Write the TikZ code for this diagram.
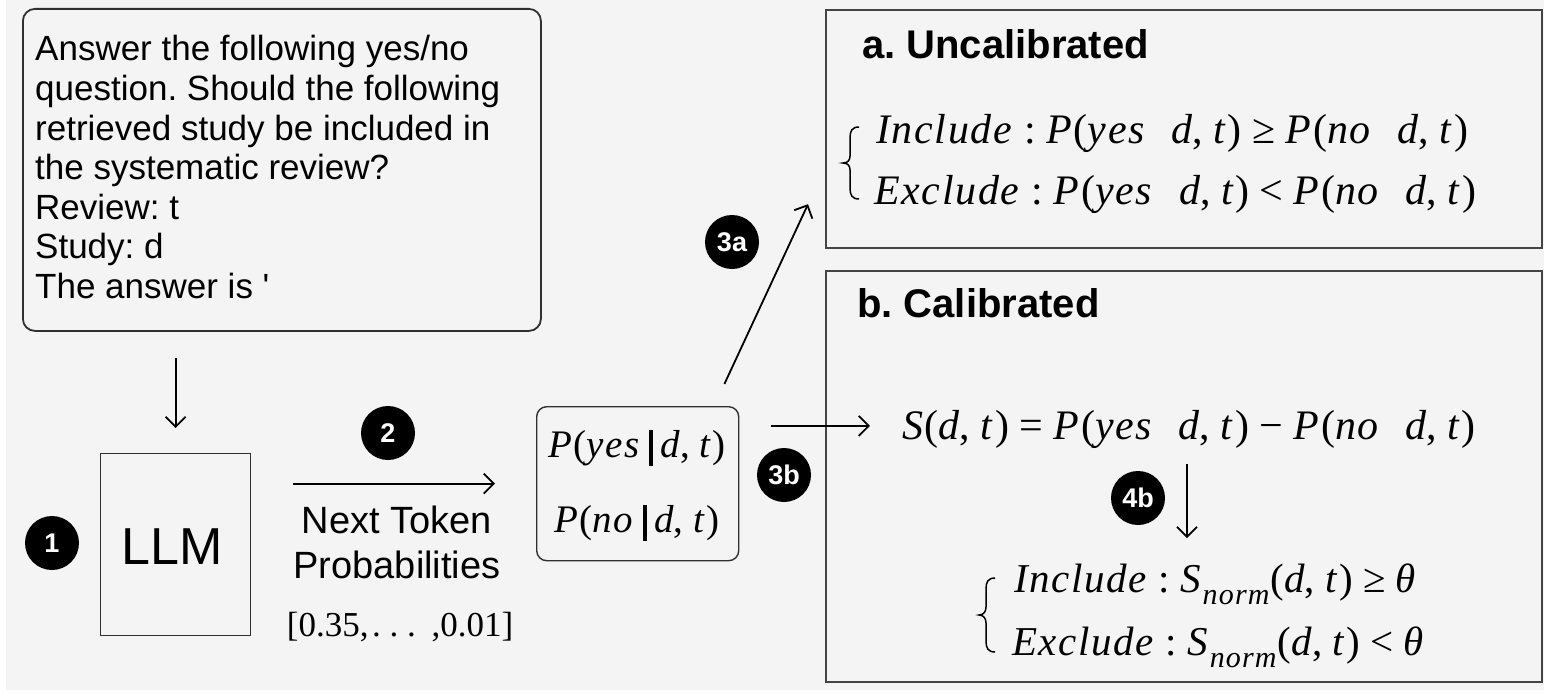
\documentclass[tikz,border=0pt]{standalone}
\usepackage{fontspec}
\setmainfont{Liberation Sans}
\newfontfamily\plainsans{Liberation Sans}[Ligatures=TeXOff]
\newfontfamily\tms{Liberation Serif}[ItalicFeatures={LetterSpace=4}]
\usetikzlibrary{arrows.meta}
\definecolor{bgc}{HTML}{F4F4F4}
\definecolor{edgec}{HTML}{303030}
\definecolor{framec}{HTML}{444444}
\newcommand\fs[1]{\fontsize{#1}{#1}\selectfont}
\newcommand\vv[1]{\textit{#1}}
\newcommand\pbar{\kern0.2em\rule[-9pt]{4pt}{36pt}\kern0.2em}
\newcommand\gap{\hspace{0.6em}}
\newcommand\sub[1]{\raisebox{-0.3em}{\fontsize{30}{30}\selectfont\textit{#1}}}
\frenchspacing
\begin{document}
\begin{tikzpicture}[x=1pt,y=-1pt,
  conn/.style={line width=1.8pt,-{Straight Barb[length=10pt,width=20pt]}},
  badge/.style={circle,fill=black,minimum size=54pt,inner sep=0pt,text=white,font=\fs{27}\bfseries},
  rbox/.style={draw=edgec,line width=1.8pt,rounded corners=12pt,anchor=north west,inner sep=0pt},
  sbox/.style={draw=edgec,line width=1.4pt,anchor=north west,inner sep=0pt},
  frame/.style={draw=framec,line width=2.2pt,anchor=north west,inner sep=0pt},
  eqa/.style={anchor=base west,inner sep=0pt,font=\tms\fs{42}\frenchspacing},
  eqb/.style={anchor=base west,inner sep=0pt,font=\tms\fs{41}\frenchspacing},
  title/.style={anchor=base west,inner sep=0pt,font=\fs{40}\bfseries\frenchspacing},
  lbl/.style={anchor=base,inner sep=0pt}]
\useasboundingbox (0,0) rectangle (1544,693);
\fill[bgc] (6,0) rectangle (1544,690);

% prompt
\node[rbox,minimum width=518pt,minimum height=322pt] (promptbox) at (22,8) {};
\node[anchor=base west,inner sep=0pt,font=\fontsize{35}{39.5}\selectfont\frenchspacing] (prompt) at (35,61)
  {\parbox[t]{500pt}{\raggedright\frenchspacing Answer the following yes/no\\question. Should the following\\retrieved study be included in\\the systematic review?\\Review: t\\Study: d\\The answer is {\plainsans '}}};

% LLM
\node[sbox,minimum width=150pt,minimum height=182pt] (llm) at (100,453) {};
\node[lbl,font=\fs{52}] (llmtext) at (172,564) {LLM};
\draw[conn,shorten <=26pt,shorten >=25pt] (llm.north |- promptbox.south) -- (llm.north);

\node[badge] (b1) at (52,543) {1};
\node[badge] (b2) at (388,433) {2};

% probabilities box
\node[rbox,rounded corners=10pt,line width=1.4pt,minimum width=202pt,minimum height=154pt] (prob) at (536,406) {};
\node[lbl,font=\tms\fs{39}] (pyes) at (637,457) {\vv{P}(\vv{yes}\pbar\vv{d}, \vv{t})};
\node[lbl,font=\tms\fs{39}] (pno) at (637,532) {\vv{P}(\vv{no}\pbar\vv{d}, \vv{t})};

\draw[conn,shorten <=42pt,shorten >=41pt] (llm.east |- prob.west) -- (prob.west);
\node[anchor=base,inner sep=0pt,font=\fontsize{38}{45}\selectfont] (ntp) at (397,533)
  {\parbox[t]{260pt}{\centering Next Token\\Probabilities}};
\node[lbl,font=\tms\fs{35}] (vals) at (400,636) {[0.35,\kern0.1em.\kern0.25em.\kern0.25em.\kern0.45em,0.01]};

% boxes a and b
\node[frame,minimum width=716pt,minimum height=238pt] (boxa) at (825,9) {};
\node[frame,minimum width=716pt,minimum height=411pt] (boxb) at (825,270) {};
\node[title] (ta) at (862,59) {a. Uncalibrated};
\node[title] (tb) at (857,317) {b. Calibrated};

\node[eqa] (ainc) at (876,143) {\vv{Include} : \vv{P}(\vv{yes}\gap\vv{d}, \vv{t}) ≥ \vv{P}(\vv{no}\gap\vv{d}, \vv{t})};
\node[eqa] (aexc) at (874,204) {\vv{Exclude} : \vv{P}(\vv{yes}\gap\vv{d}, \vv{t}) < \vv{P}(\vv{no}\gap\vv{d}, \vv{t})};
\draw[line width=1.5pt] (859,127) .. controls (852,127) and (850,131) .. (850,138) -- (850,156)
  .. controls (850,160) and (848,163) .. (843,163) .. controls (848,163) and (850,166) .. (850,170)
  -- (850,188) .. controls (850,195) and (852,199) .. (859,199);

\node[eqa] (seq) at (902,439) {\vv{S}(\vv{d}, \vv{t}) = \vv{P}(\vv{yes}\gap\vv{d}, \vv{t}) − \vv{P}(\vv{no}\gap\vv{d}, \vv{t})};
\node[eqb] (binc) at (1014,592) {\vv{Include} : \vv{S}\sub{norm}(\vv{d}, \vv{t}) ≥ \vv{θ}};
\node[eqb] (bexc) at (1012,655) {\vv{Exclude} : \vv{S}\sub{norm}(\vv{d}, \vv{t}) < \vv{θ}};
\draw[line width=1.5pt] (995,578) .. controls (988,578) and (986,582) .. (986,589) -- (986,607)
  .. controls (986,611) and (984,615) .. (979,615) .. controls (984,615) and (986,619) .. (986,623)
  -- (986,641) .. controls (986,648) and (988,652) .. (995,652);

% connectors
\draw[conn] ([shift={(-15,-22)}]prob.north east) -- ([shift={(-17,-45)}]boxa.south west);
\draw[conn,shorten <=32pt] ([yshift=3pt]prob.east |- seq.west) -- ([shift={(-32,-3)}]seq.west);
\draw[conn] ([yshift=-16pt]seq.south -| 1187,0) -- ([yshift=25pt]binc.north -| 1187,0);

\node[badge] (b3a) at (732,242) {3a};
\node[badge] (b3b) at (784,475) {3b};
\node[badge] (b4b) at (1138,498) {4b};
\end{tikzpicture}
\end{document}
